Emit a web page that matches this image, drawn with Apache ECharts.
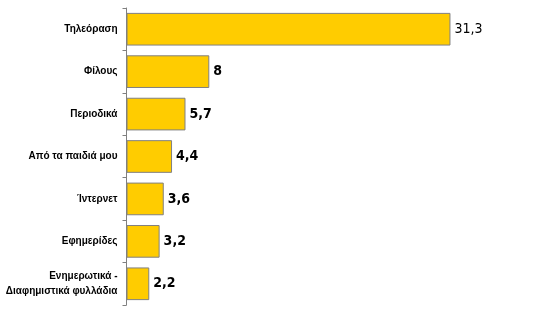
<!DOCTYPE html>
<html><head><meta charset="utf-8">
<script src="https://cdn.jsdelivr.net/npm/echarts@6/dist/echarts.min.js"></script>
<style>html,body{margin:0;padding:0;background:#fff}#c{width:550px;height:311px}</style>
</head><body><div id="c"></div>
<script>
var categories = ['Τηλεόραση','Φίλους','Περιοδικά','Από τα παιδιά μου','Ίντερνετ','Εφημερίδες','Ενημερωτικά -\nΔιαφημιστικά φυλλάδια'];
var values = [31.3, 8, 5.7, 4.4, 3.6, 3.2, 2.2];

var chart = echarts.init(document.getElementById('c'), null, {renderer:'canvas'});
chart.setOption({
  animation:false,
  grid:{left:126.5, right:9.5, top:8, bottom:6, containLabel:false, outerBoundsMode:'none'},
  xAxis:{type:'value', min:0, max:40, show:false},
  yAxis:{type:'category', inverse:true, data:categories,
    axisLine:{lineStyle:{color:'#808080', width:1}},
    axisTick:{show:true, length:4, lineStyle:{color:'#808080'}},
    axisLabel:{margin:9, color:'#000', fontFamily:'Liberation Sans, Arial', fontWeight:'bold', fontSize:10, lineHeight:15, align:'right'}
  },
  series:[{type:'bar', data:values.map(function(v,i){
      return {value:v, label:{fontWeight: i===0?'normal':'bold'}};
    }),
    barCategoryGap:'23%',
    itemStyle:{color:'#FFCC00', borderColor:'#808080', borderWidth:1},
    label:{show:true, position:'right', distance:4, color:'#000', fontSize:14,
      fontFamily:'DejaVu Sans Condensed, Liberation Sans Narrow, Liberation Sans',
      formatter:function(p){return String(p.value).replace('.',',');}}
  }]
});
</script></body></html>
